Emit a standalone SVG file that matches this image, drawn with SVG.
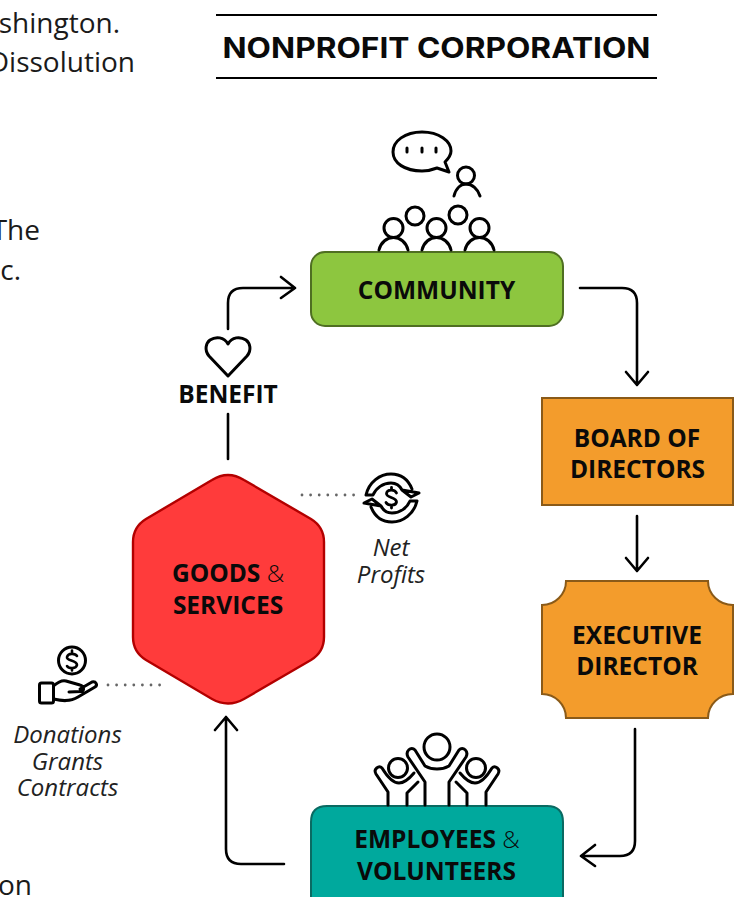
<svg xmlns="http://www.w3.org/2000/svg" width="738" height="897" viewBox="0 0 738 897">
<style>
text{font-family:"Open Sans","Noto Sans",sans-serif;fill:#0a0a0a}
.body{font-size:28px;fill:#1a1a1a;text-anchor:end}
.lab{font-size:24.5px;font-weight:700;text-anchor:middle}
.amp{font-weight:300}
.it{font-size:24px;font-style:italic;text-anchor:middle;fill:#222}
.line{fill:none;stroke:#000;stroke-width:2.6;stroke-linecap:round;stroke-linejoin:round}
.icon{fill:none;stroke:#000;stroke-width:3;stroke-linecap:round;stroke-linejoin:round}
.dots{fill:none;stroke:#666;stroke-width:2.8;stroke-linecap:round;stroke-dasharray:0 8.6}
</style>
<rect width="738" height="897" fill="#fff"/>
<g id="page-text">
<text class="body" x="120" y="33">shington.</text>
<text class="body" x="135" y="71.500">Dissolution</text>
<text class="body" x="40" y="240">The</text>
<text class="body" x="21" y="280">c.</text>
<text class="body" x="32" y="895">on</text>
</g>
<g id="title">
<path d="M216 15H657M216 78H657" stroke="#000" stroke-width="2" fill="none"/>
<text x="436.500" y="58" text-anchor="middle" font-size="28" font-weight="700" style="font-family:Inter,'Open Sans',sans-serif" textLength="428" lengthAdjust="spacingAndGlyphs">NONPROFIT CORPORATION</text>
</g>
<g id="connectors">
<path class="line" d="M228 329V303Q228 288 243 288H295M281 277L295 288L281 298"/>
<path class="line" d="M580 288H622Q637 288 637 303V385M626 372L637 385L648 372"/>
<path class="line" d="M637 516V571M626 558L637 571L648 558"/>
<path class="line" d="M635 729V841Q635 856 620 856H581M595 845L581 856L595 866"/>
<path class="line" d="M284 864H241Q226 864 226 849V717M215 730L226 717L237 730"/>
<path class="line" d="M228 414V459"/>
<path class="dots" d="M302 495H356"/>
<path class="dots" d="M108 685H163"/>
</g>
<g id="community">
<rect x="311" y="252" width="252" height="74" rx="14" fill="#8dc63f" stroke="#4f6f22" stroke-width="2"/>
<text class="lab" x="436.500" y="299">COMMUNITY</text>
<g class="icon">
<path d="M437 168C432 170 427 171 422 171C405 171 393 163 393 152C393 141 405 132 422 132C439 132 451 141 451 151C451 155 448 159 445 162L449 172Z"/>
<path d="M407 148v4M422 148v4M436 148v4"/>
<circle cx="466" cy="175.500" r="8.500"/>
<path d="M454 196C456 188 461 184 466 184C472 184 478 189 480 196"/>
<circle cx="415" cy="216" r="9"/><circle cx="458" cy="215" r="9"/>
<circle cx="393.500" cy="228" r="9.500"/><circle cx="436.500" cy="228" r="9.500"/><circle cx="479.500" cy="228" r="9.500"/>
<path d="M379 250C381 242 387 237.500 393.500 237.500C400 237.500 406 242 408 250M422 250C424 242 430 237.500 436.500 237.500C443 237.500 449 242 451 250M465 250C467 242 473 237.500 479.500 237.500C486 237.500 492 242 494 250"/>
</g>
</g>
<g id="benefit">
<path class="icon" d="M228 376L209 356C204 350 206 343 210 340C216 336 224 337 228 344C232 337 240 336 246 340C250 343 252 350 247 356Z"/>
<text x="228" y="403" text-anchor="middle" font-size="24.500" font-weight="700">BENEFIT</text>
</g>
<g id="board">
<rect x="542" y="398" width="191" height="107" fill="#f39c2c" stroke="#8a5a18" stroke-width="2"/>
<text class="lab" x="637" y="446.500">BOARD OF</text>
<text class="lab" x="637.500" y="478">DIRECTORS</text>
</g>
<g id="executive">
<path d="M566 581H708A25 24 0 0 0 733 605V694A25 24 0 0 0 708 718H566A24 24 0 0 0 542 694V605A24 24 0 0 0 566 581Z" fill="#f39c2c" stroke="#8a5a18" stroke-width="2"/>
<text class="lab" x="637" y="643.500">EXECUTIVE</text>
<text class="lab" x="637" y="675">DIRECTOR</text>
</g>
<g id="employees">
<path d="M311 897V822Q311 806 327 806H547Q563 806 563 822V897" fill="#00a99d" stroke="#0a6a62" stroke-width="2"/>
<text class="lab" x="437" y="848">EMPLOYEES <tspan class="amp">&amp;</tspan></text>
<text class="lab" x="436.500" y="880">VOLUNTEERS</text>
<g class="icon">
<circle cx="437" cy="747" r="13"/>
<path d="M425 805V782L408 757C405 751 411 746 415 750L425 766C432 770 442 770 449 766L459 750C463 746 469 751 466 757L449 782V805"/>
<circle cx="398" cy="768" r="9.500"/><circle cx="476" cy="768" r="9.500"/>
<path d="M388 805V792L376 774C373 769 379 765 382 768C388 778 393 783 399 783C404 783 409 779 414 773M407 805V793L418 782"/>
<path d="M486 805V792L498 774C501 769 495 765 492 768C486 778 481 783 475 783C470 783 465 779 460 773M467 805V793L456 782"/>
</g>
</g>
<g id="goods">
<path d="M212 480Q228 470 244 480L311 519Q324 527 324 542V637Q324 652 311 660L244 699Q228 708 212 699L146 660Q133 652 133 637V542Q133 527 146 519Z" fill="#ff3b3b" stroke="#b30000" stroke-width="2.400"/>
<text class="lab" x="228" y="582">GOODS <tspan class="amp">&amp;</tspan></text>
<text class="lab" x="228" y="614">SERVICES</text>
</g>
<g id="net-profits">
<g class="icon">
<path d="M366 495H373C376 488 383 483 391 483C396 483 400 486 402 490L419 493L411 497L402 490M366 495C369 482 380 474 391 474C400 474 408 479 412 489"/>
<path d="M417 501H410C407 508 400 513 392 513C387 513 383 510 381 506L364 503L372 499L381 506M417 501C414 514 403 522 392 522C383 522 375 517 371 507"/>
<path d="M396.500 493C395 489 387 489 386.500 493.500C386 498 396.500 497 396.500 502C396 506 388 506 386 502.500M391.500 487.500V490M391.500 505.500V508" stroke-width="2.800"/>
</g>
<text class="it" x="391" y="556">Net</text>
<text class="it" x="391" y="583">Profits</text>
</g>
<g id="donations">
<g class="icon">
<circle cx="72" cy="660.500" r="13.500"/>
<path d="M77 656C75 653 68 653 67 657C66 661 77 660 77 665C76 669 69 669 67 666M72 650.500V653M72 668V670.500" stroke-width="2.600"/>
<rect x="39.500" y="683" width="14" height="20" rx="2"/>
<path d="M53.500 686C58 682 62 680 66 681L80 685C84 686 85 691 81 691.500L69 692M80 689L92 682C96 681 98 685 95 687L78 697C70 702 62 701 53.500 699"/>
</g>
<text class="it" x="67.500" y="743">Donations</text>
<text class="it" x="67.500" y="770">Grants</text>
<text class="it" x="67.500" y="796">Contracts</text>
</g>
</svg>
